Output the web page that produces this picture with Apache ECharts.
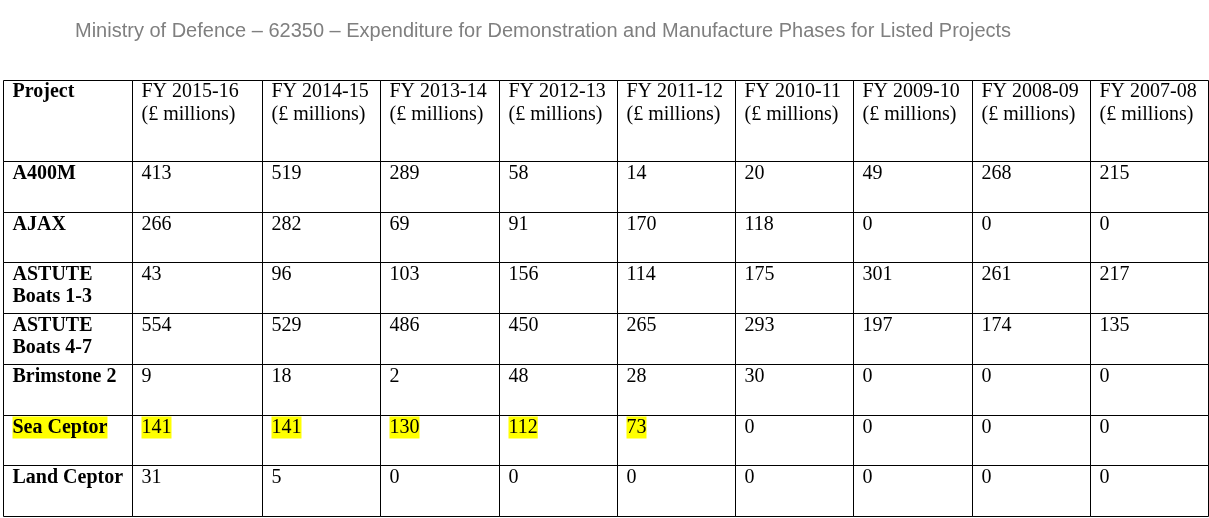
<!DOCTYPE html>
<html>
<head>
<meta charset="utf-8">
<title>Ministry of Defence – 62350</title>
<script src="https://cdn.jsdelivr.net/npm/echarts@6/dist/echarts.min.js"></script>
<style>
html, body { margin: 0; padding: 0; background: #fff; }
#main { width: 1209px; height: 518px; }
</style>
</head>
<body>
<div id="main"></div>
<script>
// 标题
const titleText = 'Ministry of Defence – 62350 – Expenditure for Demonstration and Manufacture Phases for Listed Projects';
// 表头
const firstHeader = 'Project';
const years = ['FY 2015-16', 'FY 2014-15', 'FY 2013-14', 'FY 2012-13', 'FY 2011-12', 'FY 2010-11', 'FY 2009-10', 'FY 2008-09', 'FY 2007-08'];
const unitLabel = '(£ millions)';
const projects = ['A400M', 'AJAX', 'ASTUTE\nBoats 1-3', 'ASTUTE\nBoats 4-7', 'Brimstone 2', 'Sea Ceptor', 'Land Ceptor'];
// 各项目支出 (£ millions)，顺序同 years
const a400m = [413, 519, 289, 58, 14, 20, 49, 268, 215];
const ajax = [266, 282, 69, 91, 170, 118, 0, 0, 0];
const astute13 = [43, 96, 103, 156, 114, 175, 301, 261, 217];
const astute47 = [554, 529, 486, 450, 265, 293, 197, 174, 135];
const brimstone2 = [9, 18, 2, 48, 28, 30, 0, 0, 0];
const seaCeptor = [141, 141, 130, 112, 73, 0, 0, 0, 0];
const landCeptor = [31, 5, 0, 0, 0, 0, 0, 0, 0];
const rowValues = [a400m, ajax, astute13, astute47, brimstone2, seaCeptor, landCeptor];
const highlightProject = 'Sea Ceptor'; // 黄色高亮的那一行

// 布局：列分三组（列宽不同），行分表头和表体
const colGroups = [
  { first: 0, count: 1, left: 3, width: 129 },
  { first: 1, count: 1, left: 132, width: 130 },
  { first: 2, count: 8, left: 262, width: 946 }
];
const rowGroups = [
  { header: true, top: 80, height: 81 },
  { header: false, top: 161, height: 355 }
];

const columns = [firstHeader].concat(years);
const grid = [], xAxis = [], yAxis = [], series = [];

rowGroups.forEach(rg => {
  colGroups.forEach(cg => {
    const gi = grid.length;
    const cols = columns.slice(cg.first, cg.first + cg.count);
    const rows = rg.header ? ['header'] : projects;
    grid.push({ left: cg.left, top: rg.top, width: cg.width, height: rg.height });
    xAxis.push({ type: 'category', gridIndex: gi, data: cols, show: false });
    yAxis.push({ type: 'category', gridIndex: gi, data: rows, inverse: true, show: false });

    const data = [], meta = [];
    rows.forEach((r, ri) => {
      cols.forEach((c, ci) => {
        const col = cg.first + ci;
        let text, bold = false, hl = false;
        if (rg.header) {
          text = col === 0 ? firstHeader : c + '\n' + unitLabel;
          bold = col === 0;
        } else if (col === 0) {
          text = r;
          bold = true;
          hl = r === highlightProject;
        } else {
          const v = rowValues[ri][col - 1];
          text = String(v);
          hl = r === highlightProject && v > 0;
        }
        data.push([ci, ri]);
        meta.push({ text, bold, hl, header: rg.header });
      });
    });

    series.push({
      type: 'custom',
      xAxisIndex: gi,
      yAxisIndex: gi,
      data: data,
      silent: true,
      renderItem: (params, api) => {
        const m = meta[params.dataIndex];
        const c = api.coord([api.value(0), api.value(1)]);
        const s = api.size([1, 1]);
        // 取整到半像素，让边框是清晰的 1px 线
        const x0 = Math.round(c[0] - s[0] / 2) + 0.5;
        const x1 = Math.round(c[0] + s[0] / 2) + 0.5;
        const y0 = Math.round(c[1] - s[1] / 2) + 0.5;
        const y1 = Math.round(c[1] + s[1] / 2) + 0.5;
        return {
          type: 'group',
          children: [
            {
              type: 'rect',
              shape: { x: x0, y: y0, width: x1 - x0, height: y1 - y0 },
              style: { fill: null, stroke: '#000', lineWidth: 1 }
            },
            {
              type: 'text',
              x: x0 + 9,
              y: y0 + (m.header ? 0 : 1),
              style: {
                text: m.text,
                fontFamily: '"Liberation Serif", "Times New Roman", serif',
                fontSize: 20,
                fontWeight: m.bold ? 'bold' : 'normal',
                fill: '#000',
                lineHeight: m.header ? 23 : 22,
                backgroundColor: m.hl ? '#ffff00' : null,
                align: 'left',
                verticalAlign: 'top'
              }
            }
          ]
        };
      }
    });
  });
});

const myChart = echarts.init(document.getElementById('main'));
myChart.setOption({
  animation: false,
  backgroundColor: '#fff',
  title: {
    text: titleText,
    left: 75,
    top: 21,
    padding: 0,
    textStyle: {
      fontFamily: '"Liberation Sans", Arial, sans-serif',
      fontSize: 20,
      fontWeight: 'normal',
      color: '#7f7f7f'
    }
  },
  grid: grid,
  xAxis: xAxis,
  yAxis: yAxis,
  series: series
});
</script>
</body>
</html>
